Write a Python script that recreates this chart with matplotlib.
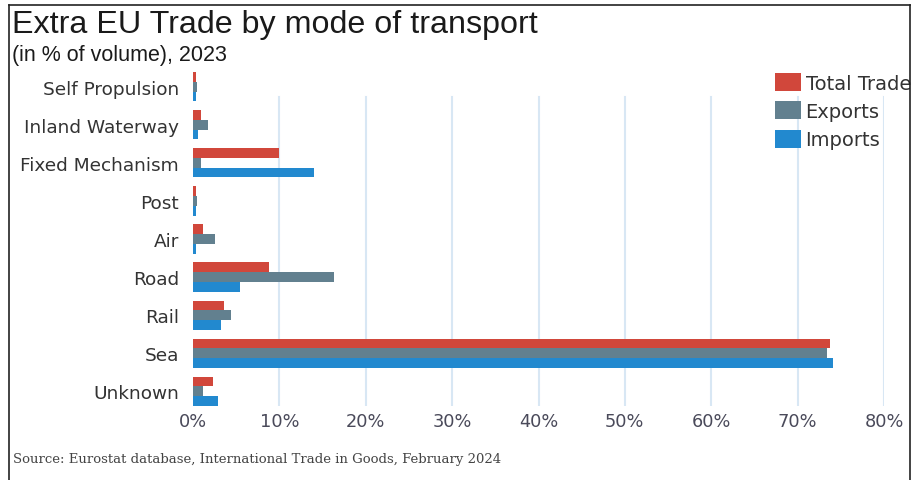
import matplotlib
matplotlib.use('Agg')
import matplotlib.pyplot as plt
from matplotlib.lines import Line2D
import numpy as np

# values (% of volume, 2023)
categories = ['Self Propulsion', 'Inland Waterway', 'Fixed Mechanism', 'Post',
              'Air', 'Road', 'Rail', 'Sea', 'Unknown']
total_trade = [0.35, 0.95, 9.9, 0.3, 1.1, 8.8, 3.6, 73.8, 2.3]
exports = [0.5, 1.7, 0.95, 0.5, 2.6, 16.3, 4.4, 73.4, 1.2]
imports = [0.3, 0.6, 14.0, 0.3, 0.4, 5.4, 3.2, 74.1, 2.9]
series_names = ['Total Trade', 'Exports', 'Imports']
x_ticks = [0, 10, 20, 30, 40, 50, 60, 70, 80]
x_tick_labels = ['0%', '10%', '20%', '30%', '40%', '50%', '60%', '70%', '80%']

colors = ['#D1473B', '#62808F', '#2289CF']
label_font = 'DejaVu Sans'

fig = plt.figure(figsize=(9.14, 4.81), dpi=100)
ax = fig.add_axes([193 / 914, 1 - 407 / 481, (884 - 193) / 914, (407 - 73) / 481])

y = np.arange(len(categories))
h = 0.255
for k, (vals, name) in enumerate(zip([total_trade, exports, imports], series_names)):
    ax.barh(y + (k - 1) * h, vals, height=h, color=colors[k], label=name, zorder=3)

ax.set_xlim(0, 80)
ax.set_ylim(8.39, -0.39)
ax.set_yticks(y)
ax.set_yticklabels(categories, fontsize=13.3, color='#333333', family=label_font)
ax.set_xticks(x_ticks)
ax.set_xticklabels(x_tick_labels, fontsize=12.8, color='#4a4a5a', family=label_font)
ax.tick_params(axis='y', length=0, pad=10)
ax.tick_params(axis='x', length=0, pad=4)
for s in ax.spines.values():
    s.set_visible(False)

# light vertical gridlines (they start a little below the top row)
for t in x_ticks[1:]:
    ax.axvline(t, ymin=0, ymax=0.925, color='#d8e7f4', lw=1.5, zorder=1)

leg = ax.legend(loc='upper left', bbox_to_anchor=(775 / 914, 1 - 74 / 481),
                bbox_transform=fig.transFigure, frameon=False,
                prop={'family': label_font, 'size': 14},
                handlelength=1.35, handleheight=1.05, handletextpad=0.22,
                labelspacing=0.45, borderpad=0, borderaxespad=0)
for t in leg.get_texts():
    t.set_color('#333333')

fig.text(12 / 914, 1 - 25 / 481, 'Extra EU Trade by mode of transport',
         fontsize=23.2, family='Liberation Sans', color='#1a1a1a', va='center')
fig.text(12 / 914, 1 - 55 / 481, '(in % of volume), 2023',
         fontsize=15.5, family='Liberation Sans', color='#1a1a1a', va='center')
fig.text(13 / 914, 1 - 460 / 481,
         'Source: Eurostat database, International Trade in Goods, February 2024',
         fontsize=9.5, family='DejaVu Serif', color='#444444', va='center')

# outer frame (open at the bottom)
for xs, ys in [([9, 9], [6, 481]), ([9, 910], [6, 6]), ([910, 910], [6, 481])]:
    fig.add_artist(Line2D([v / 914 for v in xs], [1 - v / 481 for v in ys],
                          color='#222222', lw=1.2))

fig.savefig('out.png', dpi=100)
